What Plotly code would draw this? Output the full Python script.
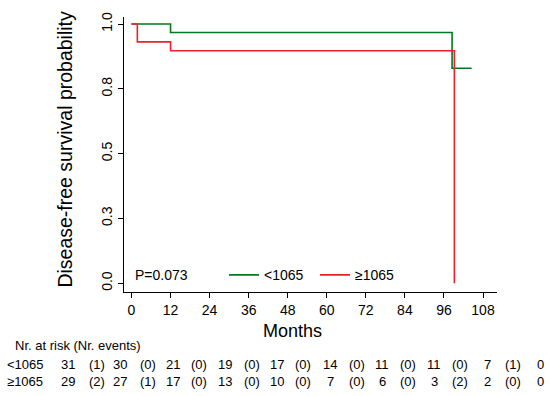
import plotly.graph_objects as go

# Kaplan-Meier step data
low_months = [0, 12, 98.5, 104.5]
low_surv = [1.0, 0.967, 0.829, 0.829]
high_months = [0, 1.8, 12, 99.2]
high_surv = [1.0, 0.931, 0.897, 0.0]

x_ticks = [0, 12, 24, 36, 48, 60, 72, 84, 96, 108]
y_ticks = [0, 0.25, 0.5, 0.75, 1.0]
y_tick_labels = ["0.0", "0.3", "0.5", "0.8", "1.0"]

group_labels = ["<1065", "≥1065"]
risk_low = [31, 30, 21, 19, 17, 14, 11, 11, 7, 0]
events_low = [1, 0, 0, 0, 0, 0, 0, 0, 1]
risk_high = [29, 27, 17, 13, 10, 7, 6, 3, 2, 0]
events_high = [2, 1, 0, 0, 0, 0, 0, 2, 0]

GREEN = "#007a1c"
RED = "#f0202a"
FONT = "Liberation Sans, Arial, sans-serif"

fig = go.Figure()
fig.add_trace(go.Scatter(x=low_months, y=low_surv, mode="lines", line_shape="hv",
                         line=dict(color=GREEN, width=1.6), name=group_labels[0]))
fig.add_trace(go.Scatter(x=high_months, y=high_surv, mode="lines", line_shape="hv",
                         line=dict(color=RED, width=1.6), name=group_labels[1]))

W, H = 550, 396
L, R, T, B = 124, 53, 12, 104
pw, ph = W - L - R, H - T - B


def px(x):
    return (x - L) / pw


def py(y):
    return (H - B - y) / ph


annotations = []
annotations.append(dict(text="P=0.073", x=px(133), y=py(275), xref="paper", yref="paper",
                        xanchor="left", yanchor="middle", showarrow=False,
                        font=dict(size=14, color="black", family=FONT)))
annotations.append(dict(text="Months", x=px(292), y=py(332), xref="paper", yref="paper",
                        xanchor="center", yanchor="middle", showarrow=False,
                        font=dict(size=18, color="black", family=FONT)))
annotations.append(dict(text="Disease-free survival probability", x=px(65), y=py(147),
                        xref="paper", yref="paper", xanchor="center", yanchor="middle",
                        textangle=-90, showarrow=False,
                        font=dict(size=19.5, color="black", family=FONT)))
annotations.append(dict(text="Nr. at risk (Nr. events)", x=px(13), y=py(346), xref="paper",
                        yref="paper", xanchor="left", yanchor="middle", showarrow=False,
                        font=dict(size=13, color="black", family=FONT)))

num_x = [68, 120, 173, 225, 277, 330, 382, 434, 487, 540]
ev_x = [97, 148, 199, 252, 303, 357, 408, 460, 513]
rows = [(group_labels[0], risk_low, events_low, 366),
        (group_labels[1], risk_high, events_high, 383)]
for lab, risk, ev, yy in rows:
    annotations.append(dict(text=lab, x=px(5), y=py(yy), xref="paper", yref="paper",
                            xanchor="left", yanchor="middle", showarrow=False,
                            font=dict(size=13, color="black", family=FONT)))
    for xv, r in zip(num_x, risk):
        annotations.append(dict(text=str(r), x=px(xv), y=py(yy), xref="paper", yref="paper",
                                xanchor="center", yanchor="middle", showarrow=False,
                                font=dict(size=13, color="black", family=FONT)))
    for xv, e in zip(ev_x, ev):
        annotations.append(dict(text=f"({e})", x=px(xv), y=py(yy), xref="paper", yref="paper",
                                xanchor="center", yanchor="middle", showarrow=False,
                                font=dict(size=13, color="black", family=FONT)))

fig.update_layout(
    width=W, height=H,
    margin=dict(l=L, r=R, t=T, b=B, pad=0),
    paper_bgcolor="white", plot_bgcolor="white",
    font=dict(family=FONT, color="black", size=14),
    showlegend=True,
    legend=dict(orientation="h", x=px(224), y=py(275), xanchor="left", yanchor="middle",
                bgcolor="rgba(0,0,0,0)", font=dict(size=14, family=FONT),
                itemwidth=30, entrywidth=46, entrywidthmode="pixels"),
    annotations=annotations,
    xaxis=dict(range=[-2.3, 112.3], tickvals=x_ticks, showline=True, linecolor="black",
               linewidth=1, ticks="outside", ticklen=5, tickcolor="black", showgrid=False,
               zeroline=False, tickfont=dict(size=14, family=FONT)),
    yaxis=dict(range=[-0.034, 1.027], tickvals=y_ticks, ticktext=y_tick_labels,
               tickangle=-90, showline=True, linecolor="black", linewidth=1,
               ticks="outside", ticklen=5, tickcolor="black", showgrid=False,
               zeroline=False, tickfont=dict(size=14, family=FONT)),
)

fig.write_html("out.html", config={"displayModeBar": False},
               post_script="document.body.style.margin='0';document.body.style.overflow='hidden';")
